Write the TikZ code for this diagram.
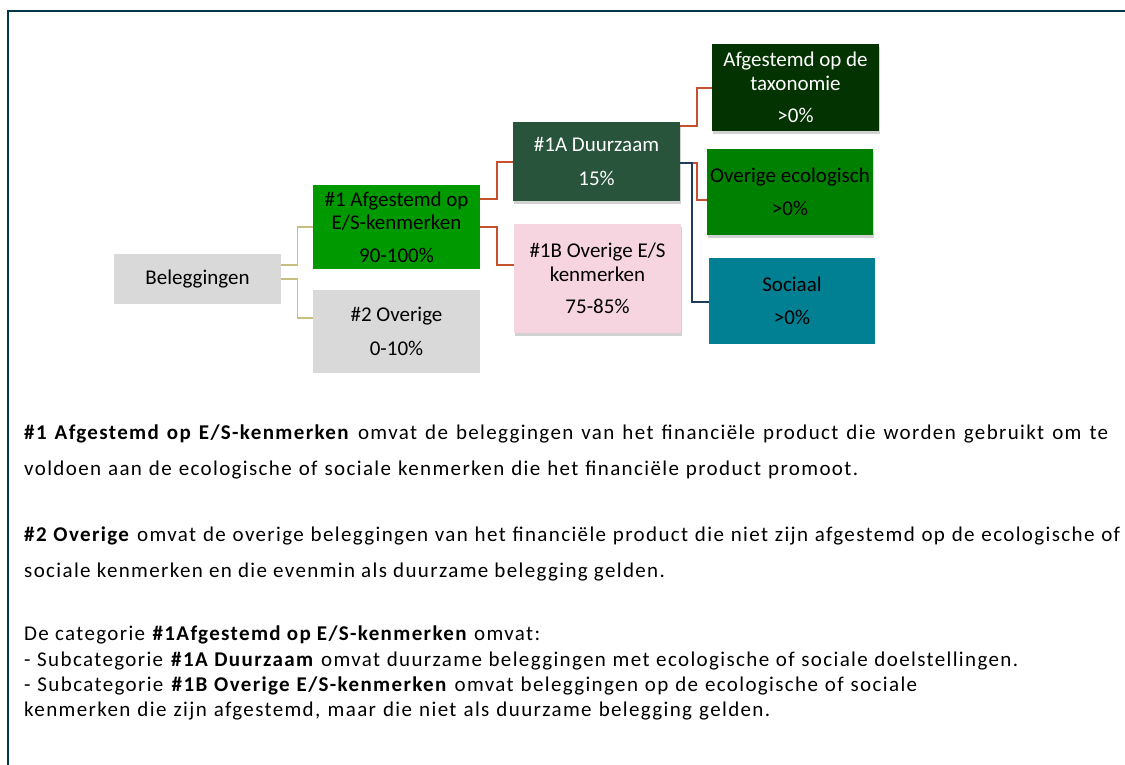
\documentclass[tikz,border=0pt]{standalone}
\usepackage{fontspec}
\setmainfont{Carlito}
\newfontfamily\bodyfont[LetterSpace=6.5]{Carlito}
\usetikzlibrary{shadows}
\definecolor{framec}{RGB}{0,56,70}
\definecolor{grayc}{RGB}{217,217,217}
\definecolor{greenA}{RGB}{0,153,0}
\definecolor{darkgr}{RGB}{39,84,58}
\definecolor{taxgr}{RGB}{3,51,0}
\definecolor{ecogr}{RGB}{0,128,0}
\definecolor{socc}{RGB}{0,128,146}
\definecolor{pinkc}{RGB}{246,213,224}
\definecolor{olivec}{RGB}{200,190,128}
\definecolor{redc}{RGB}{197,82,47}
\definecolor{navyc}{RGB}{31,58,95}
\tikzset{
  box/.style={rectangle, inner sep=0pt, align=center, text=black,
    font=\fontsize{21}{23.5}\selectfont},
  shad/.style={drop shadow={shadow xshift=1pt,shadow yshift=-3pt,fill=black,opacity=0.18}},
  oline/.style={draw=olivec, line width=1.5pt},
  rline/.style={draw=redc, line width=1.5pt},
  nline/.style={draw=navyc, line width=1.3pt},
  body/.style={anchor=base west, inner sep=0pt, font=\bodyfont\fontsize{21}{24}\selectfont},
}
\begin{document}
\begin{tikzpicture}[x=1pt,y=-1pt]
\useasboundingbox (0,0) rectangle (1125,764);
\draw[framec, line width=2pt] (8,766) -- (8,11) -- (1127,11);

\node[box, fill=grayc, minimum width=167pt, minimum height=50pt] (bel) at (197.5,279) {Beleggingen};
\node[box, fill=greenA, minimum width=167pt, minimum height=84pt] (a1) at (396.5,227) {\#1 Afgestemd op\\E/S-kenmerken\\[9pt]90-100\%};
\node[box, fill=grayc, minimum width=167pt, minimum height=83pt] (o2) at (396.5,331.5) {\#2 Overige\\[10pt]0-10\%};
\node[box, shad, fill=darkgr, text=white, minimum width=167pt, minimum height=79pt] (d1a) at (596.5,161.5) {\#1A Duurzaam\\[10pt]15\%};
\node[box, shad, fill=pinkc, minimum width=167pt, minimum height=109pt] (o1b) at (597.5,278.5) {\#1B Overige E/S\\kenmerken\\[9pt]75-85\%};
\node[box, shad, fill=taxgr, text=white, minimum width=167pt, minimum height=87pt] (tax) at (795.5,87.5) {Afgestemd op de\\taxonomie\\[9pt]>0\%};
\node[box, shad, fill=ecogr, minimum width=166pt, minimum height=86pt] (eco) at (790,192) {Overige ecologisch\\[10pt]>0\%};
\node[box, fill=socc, minimum width=166pt, minimum height=86pt] (soc) at (792,301) {Sociaal\\[10pt]>0\%};

\draw[oline] (bel.east |- 0,265) -| (297.7,227) -- (a1.west);
\draw[oline] (bel.east |- 0,279) -| (297.7,318) -- (o2.west |- 0,318);
\draw[rline] (a1.east |- 0,199) -| (497,162) -- (d1a.west |- 0,162);
\draw[rline] (a1.east |- 0,227) -| (497,265) -- (o1b.west |- 0,265);
\draw[rline] (d1a.east |- 0,126) -| (697,88) -- (tax.west |- 0,88);
\draw[rline] (d1a.east |- 0,163) -| (697,200) -- (eco.west |- 0,200);
\draw[nline] (d1a.east |- 0,163) -| (692,302) -- (soc.west |- 0,302);

\node[body] (t1) at (24,439) {\makebox[1084pt][s]{\textbf{\#1 Afgestemd op E/S-kenmerken} omvat de beleggingen van het financiële product die worden gebruikt om te}};
\node[body] (t2) at (24,475) {\makebox[834pt][s]{voldoen aan de ecologische of sociale kenmerken die het financiële product promoot.}};
\node[body] (t3) at (24,541) {\makebox[1096pt][s]{\textbf{\#2 Overige} omvat de overige beleggingen van het financiële product die niet zijn afgestemd op de ecologische of}};
\node[body] (t4) at (24,577) {sociale kenmerken en die evenmin als duurzame belegging gelden.};
\node[body] (t5) at (24,640) {De categorie \textbf{\#1Afgestemd op E/S-kenmerken} omvat:};
\node[body] (t6) at (24,666) {\makebox[994pt][s]{- Subcategorie \textbf{\#1A Duurzaam} omvat duurzame beleggingen met ecologische of sociale doelstellingen.}};
\node[body] (t7) at (24,691) {\makebox[893pt][s]{- Subcategorie \textbf{\#1B Overige E/S-kenmerken} omvat beleggingen op de ecologische of sociale}};
\node[body] (t8) at (24,716) {\makebox[746pt][s]{kenmerken die zijn afgestemd, maar die niet als duurzame belegging gelden.}};
\end{tikzpicture}
\end{document}
